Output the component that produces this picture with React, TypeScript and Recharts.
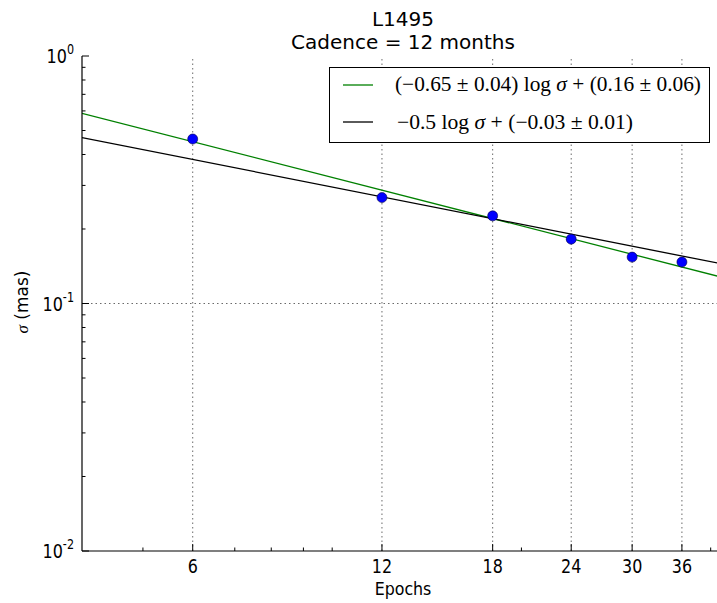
import { ComposedChart, Legend, Line, ReferenceLine, Scatter, XAxis, YAxis } from 'recharts';

// measured astrometric precision per number of epochs
const epochs = [6, 12, 18, 24, 30, 36];
const sigma = [0.462, 0.268, 0.226, 0.182, 0.154, 0.147];

// fitted lines, sampled at the ends of the x range
const fitEpochs = [4, 42];
const fitFree = [0.587, 0.127];
const fitFixed = [0.468, 0.144];

const xMajor = [6, 12, 18, 24, 30, 36];
const xMinor = [5, 7, 8, 9, 10, 20, 40];
const yTicks = [
  0.01, 0.02, 0.03, 0.04, 0.05, 0.06, 0.07, 0.08, 0.09,
  0.1, 0.2, 0.3, 0.4, 0.5, 0.6, 0.7, 0.8, 0.9, 1,
];
const yExponents: Record<string, string> = { '0.01': '-2', '0.1': '-1', '1': '0' };

const points = epochs.map((n, i) => ({ n, s: sigma[i] }));
const freeLine = fitEpochs.map((n, i) => ({ n, s: fitFree[i] }));
const fixedLine = fitEpochs.map((n, i) => ({ n, s: fitFixed[i] }));

const SANS = 'DejaVu Sans';
const SERIF = 'Liberation Serif';

function BottomTick({ x, y, payload }: any) {
  const major = xMajor.includes(payload.value);
  return (
    <g>
      <line x1={x} x2={x} y1={y} y2={y - (major ? 7 : 3.5)} stroke="#000" />
      {major && (
        <text
          transform={`translate(${x},${y + 22}) scale(0.84,1)`}
          textAnchor="middle"
          fontSize={19}
          fontFamily={SANS}
          fill="#000"
        >
          {payload.value}
        </text>
      )}
    </g>
  );
}

function TopTick({ x, y, payload }: any) {
  const major = xMajor.includes(payload.value);
  return <line x1={x} x2={x} y1={y} y2={y + (major ? 7 : 3.5)} stroke="#000" />;
}

function LeftTick({ x, y, payload }: any) {
  const exp = yExponents[String(payload.value)];
  return (
    <g>
      <line x1={x} x2={x + (exp ? 7 : 3.5)} y1={y} y2={y} stroke="#000" />
      {exp && (
        <text
          transform={`translate(${x - 8},${y + 7}) scale(0.8,1)`}
          textAnchor="end"
          fontSize={20}
          fontFamily={SANS}
          fill="#000"
        >
          10
          <tspan fontSize={14} dy={-9}>{exp}</tspan>
        </text>
      )}
    </g>
  );
}

function Dot({ cx, cy }: any) {
  return <circle cx={cx} cy={cy} r={5} fill="#0000ff" stroke="#000044" strokeWidth={0.6} />;
}

function LegendBox() {
  return (
    <svg width={381} height={76} style={{ display: 'block' }}>
      <rect x={0.5} y={0.5} width={380} height={75} fill="#fff" stroke="#000" />
      <line x1={14} x2={44} y1={18} y2={18} stroke="#008000" strokeWidth={1.3} />
      <text x={66} y={24} fontSize={21} fontFamily={SERIF} textLength={306} lengthAdjust="spacingAndGlyphs">
        (−0.65 ± 0.04) log <tspan fontStyle="italic">σ</tspan> + (0.16 ± 0.06)
      </text>
      <line x1={14} x2={44} y1={55} y2={55} stroke="#000" strokeWidth={1.3} />
      <text x={68} y={62} fontSize={21} fontFamily={SERIF} textLength={236} lengthAdjust="spacingAndGlyphs">
        −0.5 log <tspan fontStyle="italic">σ</tspan> + (−0.03 ± 0.01)
      </text>
    </svg>
  );
}

export default function App() {
  return (
    <div style={{ position: 'relative', width: 717, height: 603, overflow: 'hidden', background: '#fff' }}>
      <style>{'body { margin: 0; }'}</style>
      <div
        style={{
          position: 'absolute',
          left: 82,
          width: 642,
          top: 8,
          textAlign: 'center',
          fontFamily: SANS,
          fontSize: 20,
          lineHeight: '23px',
          color: '#000',
        }}
      >
        <div>L1495</div>
        <div>Cadence = 12 months</div>
      </div>
      <ComposedChart width={728} height={603} margin={{ top: 56, right: 4, bottom: 0, left: 0 }}>
        <XAxis
          dataKey="n"
          type="number"
          scale="log"
          domain={[4, 42]}
          allowDataOverflow
          ticks={[...xMajor, ...xMinor]}
          interval={0}
          tick={BottomTick}
          tickLine={false}
          tickSize={0}
          tickMargin={0}
          height={52}
          axisLine={{ stroke: '#000', strokeWidth: 1.2 }}
          label={{
            content: ({ viewBox }: any) => (
              <text
                transform={`translate(${viewBox.x + viewBox.width / 2},${viewBox.y + 44}) scale(0.88,1)`}
                textAnchor="middle"
                fontSize={18}
                fontFamily={SANS}
                fill="#000"
              >
                Epochs
              </text>
            ),
          }}
        />
        <XAxis
          xAxisId="top"
          orientation="top"
          type="number"
          scale="log"
          domain={[4, 42]}
          allowDataOverflow
          ticks={[...xMajor, ...xMinor]}
          interval={0}
          tick={TopTick}
          tickLine={false}
          tickSize={0}
          tickMargin={0}
          height={0}
          axisLine={{ stroke: '#000', strokeWidth: 1.2 }}
        />
        <YAxis
          dataKey="s"
          type="number"
          scale="log"
          domain={[0.01, 1]}
          allowDataOverflow
          ticks={yTicks}
          interval={0}
          tick={LeftTick}
          tickLine={false}
          tickSize={0}
          tickMargin={0}
          width={82}
          axisLine={{ stroke: '#000', strokeWidth: 1.2 }}
          label={{
            content: () => (
              <text
                transform="translate(28,302) rotate(-90)"
                textAnchor="middle"
                fontSize={17}
                fontFamily={SANS}
                fill="#000"
              >
                <tspan fontStyle="italic" fontFamily={SERIF}>σ</tspan> (mas)
              </text>
            ),
          }}
        />
        {xMajor.map((v) => (
          <ReferenceLine key={v} x={v} stroke="#444" strokeWidth={0.8} strokeDasharray="1.5 3" />
        ))}
        <ReferenceLine y={0.1} stroke="#444" strokeWidth={0.8} strokeDasharray="1.5 3" />
        <Line
          data={freeLine}
          dataKey="s"
          stroke="#008000"
          strokeWidth={1.3}
          dot={false}
          isAnimationActive={false}
        />
        <Line
          data={fixedLine}
          dataKey="s"
          stroke="#000"
          strokeWidth={1.3}
          dot={false}
          isAnimationActive={false}
        />
        <Scatter data={points} dataKey="s" shape={Dot} isAnimationActive={false} />
        <Legend
          layout="vertical"
          align="center"
          verticalAlign="middle"
          wrapperStyle={{ left: 329, top: 67, width: 381, height: 76 }}
          content={() => <LegendBox />}
        />
      </ComposedChart>
    </div>
  );
}
